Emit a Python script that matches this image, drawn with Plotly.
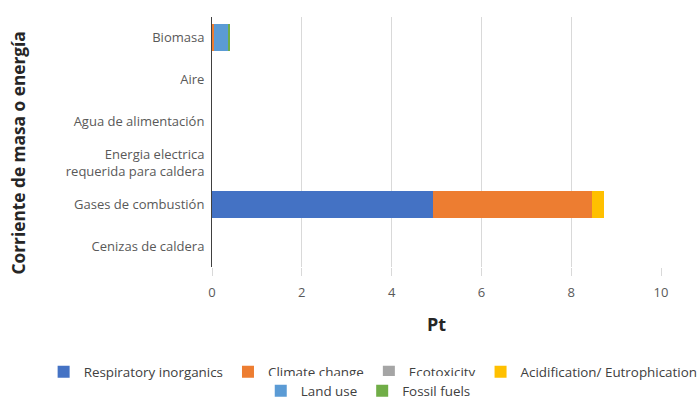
import plotly.graph_objects as go

categories = ["Biomasa", "Aire", "Agua de alimentación",
              "Energia electrica<br>requerida para caldera",
              "Gases de combustión", "Cenizas de caldera"]
respiratory = [0.02, 0, 0, 0, 4.92, 0]
climate = [0.03, 0, 0, 0, 3.54, 0]
ecotox = [0.0, 0, 0, 0, 0.0, 0]
acid = [0.005, 0, 0, 0, 0.27, 0]
land_use = [0.31, 0, 0, 0, 0.0, 0]
fossil = [0.045, 0, 0, 0, 0.0, 0]

series = [
    ("Respiratory inorganics", respiratory, "#4472C4", "legend"),
    ("Climate change", climate, "#ED7D31", "legend"),
    ("Ecotoxicity", ecotox, "#A5A5A5", "legend"),
    ("Acidification/ Eutrophication", acid, "#FFC000", "legend"),
    ("Land use", land_use, "#5B9BD5", "legend2"),
    ("Fossil fuels", fossil, "#70AD47", "legend2"),
]

fig = go.Figure()
for name, vals, color, lg in series:
    fig.add_trace(go.Bar(y=categories, x=vals, name=name, orientation="h",
                         marker=dict(color=color, line=dict(width=0)),
                         legend=lg))

font_family = "Open Sans, Liberation Sans, sans-serif"
fig.update_layout(
    barmode="stack",
    bargap=0.35,
    width=698, height=403,
    margin=dict(l=212, r=37, t=17, b=136, autoexpand=False),
    plot_bgcolor="white", paper_bgcolor="white",
    font=dict(family=font_family, size=13, color="#595959"),
    showlegend=True,
    legend=dict(orientation="h", x=-0.375, xanchor="left", y=-0.358, yanchor="top",
                font=dict(size=13.4, color="#404040"), itemwidth=30,
                traceorder="normal"),
    legend2=dict(orientation="h", x=0.348, xanchor="center", y=-0.434, yanchor="top",
                 font=dict(size=13.4, color="#404040"), itemwidth=30,
                 traceorder="normal"),
    annotations=[dict(text="<b>Corriente de masa o energía</b>", textangle=-90,
                      xref="paper", yref="paper", x=(18 - 212) / 449, y=0.454,
                      xanchor="center", yanchor="middle", showarrow=False,
                      font=dict(size=17.3, color="#262626", family=font_family))],
)
fig.update_xaxes(range=[0, 10], dtick=2, showgrid=True, gridcolor="#D9D9D9",
                 gridwidth=1, zeroline=False, ticks="outside", ticklen=8,
                 tickcolor="#D9D9D9", ticklabelstandoff=5,
                 tickfont=dict(size=13, color="#595959"),
                 title=dict(text="<b>Pt</b>", font=dict(size=18, color="#262626"),
                            standoff=18),
                 showline=False, automargin=False)
fig.update_yaxes(autorange="reversed", showline=True, linecolor="#404040", linewidth=1,
                 ticks="", tickfont=dict(size=13, color="#595959"),
                 ticklabelstandoff=4,
                 showgrid=False, automargin=False)

fig.write_html("out.html", config={"displayModeBar": False},
               post_script="document.body.style.margin='0px';")
